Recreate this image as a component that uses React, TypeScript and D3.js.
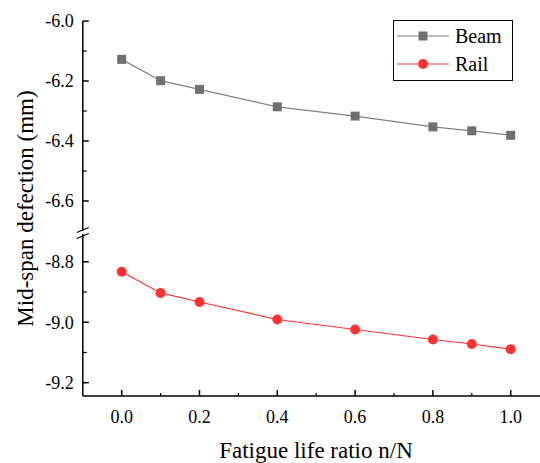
import React, { useRef, useEffect } from 'react';
import * as d3 from 'd3';

const ratios = [0, 0.1, 0.2, 0.4, 0.6, 0.8, 0.9, 1.0];
const beam = [-6.128, -6.199, -6.228, -6.286, -6.317, -6.353, -6.366, -6.381];
const rail = [-8.833, -8.903, -8.933, -8.991, -9.024, -9.057, -9.072, -9.089];
const xTicks = [0, 0.2, 0.4, 0.6, 0.8, 1.0];
const upperTicks = [-6.0, -6.2, -6.4, -6.6];
const lowerTicks = [-8.8, -9.0, -9.2];
const seriesNames = ['Beam', 'Rail'];

const App = () => {
  const svgRef = useRef(null);

  useEffect(() => {
    const svg = d3.select(svgRef.current);
    svg.selectAll('*').remove();

    const font = "'Times New Roman', Times, 'Liberation Serif', Tinos, 'Noto Serif', 'DejaVu Serif', FreeSerif, serif";
    const x = d3.scaleLinear().domain([-0.1, 1.1]).range([82.8, 549.6]);
    const yTop = d3.scaleLinear().domain([-6.0, -6.69]).range([21, 228]);
    const yBot = d3.scaleLinear().domain([-8.718, -9.244]).range([237, 396]);
    const axisX = 82.8;
    const axisY = 396;

    // y axis segments
    svg.append('line').attr('x1', axisX).attr('x2', axisX).attr('y1', yTop.range()[0]).attr('y2', yTop.range()[1] + 3)
      .attr('stroke', '#000').attr('stroke-width', 1.5);
    svg.append('line').attr('x1', axisX).attr('x2', axisX).attr('y1', yBot.range()[0] - 3).attr('y2', axisY)
      .attr('stroke', '#000').attr('stroke-width', 1.5);

    // break marks
    [230, 236].forEach(yy => {
      svg.append('line').attr('x1', axisX - 6).attr('y1', yy + 2.5).attr('x2', axisX + 6).attr('y2', yy - 2.5)
        .attr('stroke', '#000').attr('stroke-width', 1.3);
    });

    const drawYTicks = (scale, majors) => {
      const g = svg.append('g');
      majors.forEach(v => {
        g.append('line').attr('x1', axisX).attr('x2', axisX + 6).attr('y1', scale(v)).attr('y2', scale(v))
          .attr('stroke', '#000').attr('stroke-width', 1.5);
        g.append('text').attr('x', axisX - 9).attr('y', scale(v)).attr('dy', '0.35em')
          .attr('text-anchor', 'end').style('font-family', font).style('font-size', '18px')
          .text(d3.format('.1f')(v).replace('−', '-'));
      });
      majors.forEach(v => {
        const m = v - 0.1;
        if (scale(m) <= scale.range()[1] - 3) {
          g.append('line').attr('x1', axisX).attr('x2', axisX + 4).attr('y1', scale(m)).attr('y2', scale(m))
            .attr('stroke', '#000').attr('stroke-width', 1.2);
        }
      });
    };
    drawYTicks(yTop, upperTicks);
    drawYTicks(yBot, lowerTicks);

    // x axis
    svg.append('line').attr('x1', axisX).attr('x2', 549.6).attr('y1', axisY).attr('y2', axisY)
      .attr('stroke', '#000').attr('stroke-width', 1.5);
    xTicks.forEach(v => {
      svg.append('line').attr('x1', x(v)).attr('x2', x(v)).attr('y1', axisY).attr('y2', axisY - 6)
        .attr('stroke', '#000').attr('stroke-width', 1.5);
      svg.append('line').attr('x1', x(v + 0.1)).attr('x2', x(v + 0.1)).attr('y1', axisY).attr('y2', axisY - 3)
        .attr('stroke', '#000').attr('stroke-width', 1.2);
      svg.append('text').attr('x', x(v)).attr('y', 423).attr('text-anchor', 'middle')
        .style('font-family', font).style('font-size', '18px').text(d3.format('.1f')(v));
    });

    svg.append('text').attr('x', 316).attr('y', 458).attr('text-anchor', 'middle')
      .style('font-family', font).style('font-size', '23px').text('Fatigue life ratio n/N');
    svg.append('text').attr('transform', `translate(33, ${(21 + axisY) / 2}) rotate(-90)`).attr('text-anchor', 'middle')
      .style('font-family', font).style('font-size', '23px').text('Mid-span defection (mm)');

    // series
    const beamColor = '#707070';
    const railColor = '#ff3333';
    const lineB = d3.line().x((d, i) => x(ratios[i])).y(d => yTop(d));
    const lineR = d3.line().x((d, i) => x(ratios[i])).y(d => yBot(d));
    svg.append('path').datum(beam).attr('d', lineB).attr('fill', 'none').attr('stroke', '#808080').attr('stroke-width', 1.2);
    svg.append('path').datum(rail).attr('d', lineR).attr('fill', 'none').attr('stroke', railColor).attr('stroke-width', 1.2);
    svg.selectAll('.sq').data(beam).enter().append('rect')
      .attr('x', (d, i) => x(ratios[i]) - 4.5).attr('y', d => yTop(d) - 4.5)
      .attr('width', 9).attr('height', 9).attr('fill', beamColor);
    svg.selectAll('.dot').data(rail).enter().append('circle')
      .attr('cx', (d, i) => x(ratios[i])).attr('cy', d => yBot(d)).attr('r', 5).attr('fill', railColor);

    // legend
    const lg = svg.append('g');
    lg.append('rect').attr('x', 393.5).attr('y', 20.5).attr('width', 119).attr('height', 60)
      .attr('fill', '#fff').attr('stroke', '#000').attr('stroke-width', 1);
    seriesNames.forEach((name, i) => {
      const yy = 36 + i * 28;
      const col = i === 0 ? '#808080' : railColor;
      lg.append('line').attr('x1', 397).attr('x2', 449).attr('y1', yy).attr('y2', yy).attr('stroke', col).attr('stroke-width', 1.2);
      if (i === 0) {
        lg.append('rect').attr('x', 423 - 4.5).attr('y', yy - 4.5).attr('width', 9).attr('height', 9).attr('fill', beamColor);
      } else {
        lg.append('circle').attr('cx', 423).attr('cy', yy).attr('r', 5).attr('fill', railColor);
      }
      lg.append('text').attr('x', 455).attr('y', yy).attr('dy', '0.35em').style('font-family', font)
        .style('font-size', '20px').text(name);
    });
  }, []);

  return (
    <div>
      <svg ref={svgRef} width={540} height={463} style={{ position: 'absolute', left: 0, top: 0 }}></svg>
    </div>
  );
};

export default App;
